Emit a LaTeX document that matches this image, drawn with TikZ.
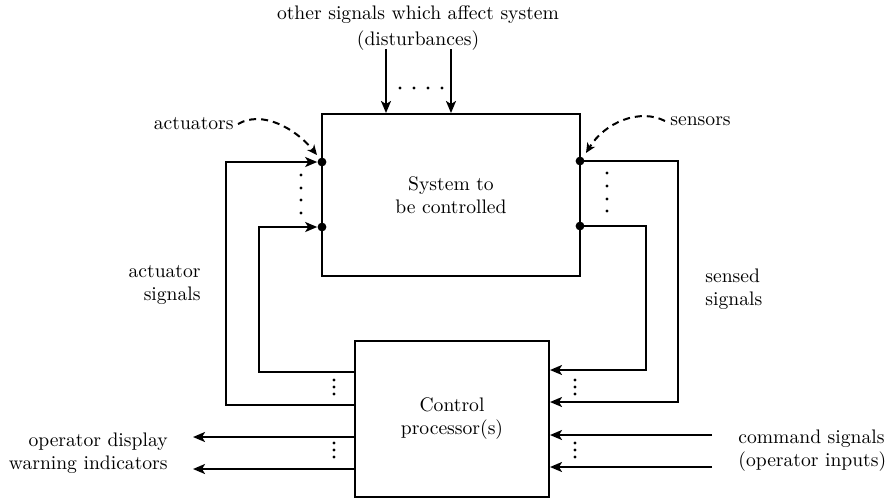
\documentclass[tikz,border=0pt]{standalone}
\usetikzlibrary{arrows.meta,calc}
\begin{document}
\begin{tikzpicture}[x=0.5pt,y=-0.5pt,
  every node/.style={font=\fontsize{9.8}{11.5}\selectfont, inner sep=0pt},
  blk/.style={draw, line width=1pt, inner sep=0pt, align=center},
  sig/.style={line width=1pt, -{Stealth[length=6pt,width=5pt,inset=1.5pt]}},
  dsh/.style={line width=1pt, dash pattern=on 3.5pt off 2.5pt, -{Stealth[length=5pt,width=4.5pt,inset=1.5pt]}},
  bigdot/.style={circle, fill, inner sep=0pt, minimum size=4.4pt}]
\useasboundingbox (0,0) rectangle (888,500);

% blocks
\node[blk, minimum width=129pt, minimum height=81pt] (sys) at (451,195) {System to\\be controlled};
\node[blk, minimum width=97pt, minimum height=78pt] (ctrl) at (452,419) {Control\\processor(s)};

% junction dots
\node[bigdot] (a1) at (322,162) {};
\node[bigdot] (a2) at (322,227) {};
\node[bigdot] (s1) at (580,161) {};
\node[bigdot] (s2) at (580,226) {};

% labels
\node[align=center, font=\fontsize{9.8}{13}\selectfont] (title) at (418,28) {other signals which affect system\\(disturbances)};
\node[anchor=east] (act) at (234,124) {actuators};
\node[anchor=west] (sen) at (670,121) {sensors};
\node[anchor=east, align=right] (actsig) at (201,285) {actuator\\signals};
\node[anchor=west, align=left] (sensig) at (705,289) {sensed\\signals};
\node[anchor=east, align=right] (opd) at (168,453) {operator display\\warning indicators};
\node[anchor=west, align=left] (cmd) at (738,451) {command signals\\(operator inputs)};

% free ends
\coordinate (d1) at (386,49);
\coordinate (d2) at (451,49);
\coordinate (out1) at (193,437);
\coordinate (out2) at (193,469);
\coordinate (in1) at (712,435);
\coordinate (in2) at (712,467);

% disturbances
\draw[sig] (d1) -- (d1 |- sys.north);
\draw[sig] (d2) -- (d2 |- sys.north);

% actuator signals
\draw[sig] (ctrl.west |- 0,405) -| (226,162) -- (a1);
\draw[sig] (ctrl.west |- 0,372) -| (259,227) -- (a2);

% sensed signals
\draw[sig] (s1.center) -| (678,402) -- (ctrl.east |- 0,402);
\draw[sig] (s2.center) -| (646,370) -- (ctrl.east |- 0,370);

% operator outputs / command inputs
\draw[sig] (ctrl.west |- out1) -- (out1);
\draw[sig] (ctrl.west |- out2) -- (out2);
\draw[sig] (in1) -- (ctrl.east |- in1);
\draw[sig] (in2) -- (ctrl.east |- in2);

% dashed pointers
\draw[dsh] (act.east) ++(4,0) .. controls (262,110) and (295,128) .. ($(a1)+(-5,-7)$);
\draw[dsh] (sen.west) ++(-5,0) .. controls (640,108) and (605,122) .. ($(s1)+(6,-8)$);

% ellipsis dots
\foreach \y in {175,188,200,213} \fill (301,\y) circle (0.8pt);
\foreach \y in {173,186,199,211} \fill (607,\y) circle (0.8pt);
\foreach \x in {400,414,428,442} \fill (\x,88) circle (0.8pt);
\foreach \y in {380,387,394,443,450,457} {\fill (334,\y) circle (0.8pt); \fill (575,\y) circle (0.8pt);}
\end{tikzpicture}
\end{document}
